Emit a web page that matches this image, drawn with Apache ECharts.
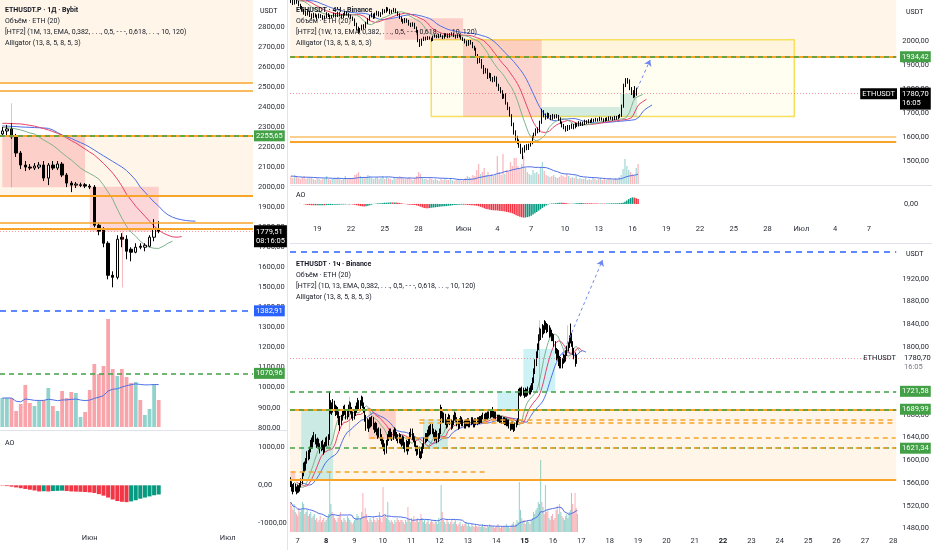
<!DOCTYPE html>
<html><head><meta charset="utf-8">
<script src="https://cdn.jsdelivr.net/npm/echarts@6/dist/echarts.min.js"></script>
<style>html,body{margin:0;padding:0;background:#fff}#c{width:932px;height:550px}</style>
</head><body><div id="c"></div><script>
// ================= DATA =================
// ---- Left panel: ETHUSDT.P · 1Д · Bybit ----
const dayStart = '2026-05-13T00:00';
const dayCount = 55;
const dayOpen  = [2265,2280,2290,2250,2170,2110,2100,2095,2100,2110,2045,2110,2095,2115,2060,2020,2010,2008,2012,2005,2000,1810,1790,1720,1560,1550,1750,1740,1690,1675,1705,1700,1705,1750,1790];
const dayClose = [2280,2290,2250,2170,2110,2100,2095,2105,2110,2045,2110,2095,2115,2060,2020,2010,2015,2012,2005,2000,1810,1780,1720,1560,1550,1740,1740,1680,1675,1700,1700,1710,1750,1790,1779.51];
const dayLow   = [2255,2260,2240,2150,2090,2080,2085,2085,2090,2030,2010,2085,2085,2050,2000,1975,1995,2000,1995,1990,1800,1760,1700,1540,1500,1540,1700,1640,1630,1670,1690,1680,1700,1730,1770];
const dayHigh  = [2300,2310,2320,2265,2180,2130,2115,2120,2125,2130,2120,2130,2130,2125,2070,2030,2025,2022,2020,2015,2010,1820,1800,1730,1580,1760,1770,1760,1700,1720,1720,1720,1760,1840,1830];
const dayVolume = [29,29,29,16,23,42,24,21,26,27,39,21,16,36,29,35,34,10,15,37,63,53,61,108,58,51,58,50,44,45,27,12,18,42,27];
const dayAO = [-10,-20,-35,-55,-75,-95,-115,-135,-160,-155,-160,-150,-145,-140,-150,-160,-165,-170,-175,-185,-200,-230,-270,-320,-370,-410,-430,-440,-420,-390,-350,-320,-290,-260,-240];
const dayJaw = [2305,2304,2303,2302,2300,2299,2298,2297,2296,2295,2293,2285,2272,2260,2251,2243,2232,2222,2212,2199,2185,2170,2156,2142,2128,2114,2100,2083,2060,2035,2000,1975,1950,1925,1905,1880,1862,1850,1842,1837,1833,1831,1830];
const dayTeeth = [2318,2318,2317,2316,2315,2312,2308,2304,2298,2292,2285,2277,2268,2258,2245,2232,2220,2205,2190,2175,2160,2140,2118,2095,2070,2040,2005,1965,1935,1905,1880,1855,1830,1805,1785,1770,1760,1752,1750,1753];
const dayLips = [2298,2296,2294,2290,2285,2278,2270,2265,2250,2235,2222,2208,2190,2170,2152,2135,2115,2095,2080,2068,2055,2040,2010,1975,1940,1890,1845,1805,1775,1755,1730,1712,1700,1695,1694,1705,1720,1730];
const dayPriceTicks = [800,900,1000,1100,1200,1300,1400,1500,1600,1700,1800,1900,2000,2100,2200,2300,2400,2500,2600,2700,2800];
const dayAOTicks = [-1000,0,1000];

// ---- Top right: ETHUSDT · 4Ч · Binance ----
const h4Start = '2026-05-16T16:00';
const h4Count = 324;
const h4FirstOpen = 2170;
const h4Close = [2165,2158,2170,2162,2150,2140,2130,2118,2112,2120,2108,2100,
2110,2105,2098,2108,2102,2095,2100,2112,2106,2098,2102,2110,
2104,2115,2108,2100,2110,2118,2112,2105,2098,2090,2070,2055,
2040,2048,2062,2058,2075,2090,2102,2110,2098,2112,2120,2108,
2115,2128,2122,2135,2130,2118,2125,2132,2120,2110,2098,2085,
2078,2090,2082,2070,2064,2072,2055,2040,2000,1985,2005,2012,
2008,2015,2010,2004,2018,2022,2016,2025,2020,2014,2028,2024,
2018,2026,2030,2022,2016,2024,2020,2012,2005,1995,1985,1998,
1990,1975,1968,1940,1915,1920,1895,1870,1880,1850,1862,1840,
1835,1848,1815,1800,1790,1765,1775,1740,1720,1690,1655,1620,
1595,1580,1565,1550,1540,1560,1552,1568,1575,1600,1612,1630,
1625,1660,1705,1690,1680,1695,1686,1678,1690,1682,1688,1676,
1660,1648,1640,1630,1645,1638,1650,1640,1655,1648,1660,1652,
1658,1665,1660,1668,1664,1672,1668,1675,1670,1678,1674,1670,
1676,1672,1680,1678,1675,1682,1678,1686,1690,1728,1815,1830,
1835,1800,1785,1770,1790,1780.7];
const h4High = [2180,2172,2178,2175,2168,2155,2146,2135,2125,2128,2126,2115,
2118,2115,2110,2115,2112,2108,2106,2120,2116,2110,2108,2118,
2116,2122,2120,2112,2116,2126,2124,2116,2110,2102,2094,2076,
2060,2054,2068,2070,2080,2095,2108,2118,2114,2118,2126,2124,
2120,2134,2132,2142,2140,2134,2130,2138,2136,2124,2115,2102,
2092,2096,2094,2088,2076,2078,2076,2060,2046,2008,2010,2018,
2018,2020,2019,2014,2022,2028,2026,2030,2029,2024,2032,2032,
2030,2032,2036,2034,2026,2028,2030,2024,2016,2010,2002,2004,
2004,1996,1980,1972,1946,1930,1925,1900,1888,1885,1868,1866,
1850,1855,1852,1822,1808,1795,1780,1782,1745,1726,1695,1660,
1628,1605,1590,1572,1556,1566,1570,1572,1582,1606,1618,1636,
1640,1668,1718,1712,1698,1702,1700,1692,1696,1694,1695,1692,
1682,1665,1654,1646,1650,1650,1656,1654,1660,1658,1666,1664,
1664,1672,1670,1674,1672,1678,1676,1680,1678,1684,1682,1678,
1680,1682,1686,1686,1684,1688,1688,1692,1696,1735,1822,1845,
1846,1840,1808,1795,1812,1805];
const h4Low = [2158,2150,2152,2155,2145,2132,2122,2110,2104,2106,2100,2092,
2095,2098,2090,2094,2096,2088,2090,2096,2100,2092,2094,2098,
2098,2100,2102,2094,2096,2106,2106,2098,2092,2084,2062,2046,
2030,2034,2044,2050,2052,2070,2085,2098,2092,2094,2106,2102,
2100,2110,2116,2118,2124,2112,2114,2120,2116,2104,2092,2080,
2072,2074,2076,2064,2058,2060,2050,2034,1995,1975,1980,2000,
2002,2004,2006,1998,2000,2014,2012,2012,2016,2008,2010,2018,
2012,2014,2022,2016,2010,2012,2015,2006,2000,1990,1978,1980,
1985,1970,1960,1935,1905,1908,1885,1862,1865,1842,1845,1832,
1828,1830,1810,1792,1782,1758,1760,1735,1712,1685,1645,1610,
1585,1570,1555,1530,1508,1535,1545,1546,1560,1570,1595,1605,
1615,1620,1655,1682,1672,1676,1680,1670,1672,1676,1678,1668,
1655,1640,1632,1622,1625,1630,1634,1632,1636,1642,1644,1646,
1646,1650,1654,1656,1658,1660,1662,1664,1664,1666,1668,1662,
1664,1666,1668,1672,1668,1670,1672,1674,1680,1684,1722,1808,
1822,1795,1775,1762,1765,1772];
const h4Volume = [8,6,9,7,6,5,7,8,5,6,7,6,
5,4,6,5,4,5,6,8,5,4,5,6,
5,7,6,4,5,8,6,5,5,6,9,10,
12,8,7,6,7,9,8,6,5,6,7,5,
6,8,5,7,6,5,4,6,5,6,8,7,
6,5,6,7,5,4,6,8,12,10,7,5,
5,4,6,5,4,5,4,3,5,4,6,4,
4,5,4,3,4,5,4,3,5,6,8,7,
6,9,8,14,20,10,12,16,9,12,8,10,
8,9,28,12,9,30,10,14,12,22,18,26,
26,18,15,20,28,16,12,10,9,14,11,12,
10,16,22,13,9,8,7,8,9,7,6,7,
9,8,7,10,8,6,7,6,8,5,6,5,
5,6,4,5,4,6,5,4,5,6,4,5,
4,5,6,4,5,6,5,7,9,15,25,18,
14,12,10,8,16,20];
const h4PriceTicks = [1500,1600,1700,1800,1900,2000];
const h4AOTicks = [0];

// ---- Bottom right: ETHUSDT · 1ч · Binance ----
const h1Start = '2026-06-06T18:00';
const h1Count = 513;
const h1FirstOpen = 1565;
const h1Close = [1560,1552,1548,1555,1550,1546,
1552,1548,1556,1562,
1575,1590,1585,1598,1610,1605,1618,1630,1625,1638,1642,
1632,1628,1635,1626,1620,1630,1624,1618,1628,1635,1630,1640,
1690,1695,1688,1700,1692,1685,1690,
1680,1672,1668,1675,1684,1690,1686,1678,1682,1692,1698,1688,1680,1676,1684,1690,1696,1702,1694,1700,1708,1698,
1690,1675,1662,1668,1660,1670,
1665,1672,1660,1655,1662,1650,1645,1652,1640,1635,1630,
1625,1618,1630,1640,1646,
1650,1644,1640,1648,1652,1645,1640,1636,1642,
1635,1630,1638,1628,1622,1630,1620,
1632,1645,1650,1642,1638,
1630,1622,1615,1620,1612,1608,1618,
1625,1635,1642,1638,1648,1655,1650,1658,1652,
1645,1640,1648,1636,1642,1650,
1688,
1680,1672,1678,1668,1662,1670,1676,1668,1660,1666,1674,1680,1672,1665,1660,1668,1672,1664,
1666,1660,1668,1664,1670,1662,1666,1672,1668,1662,1670,1666,1672,1668,1674,1670,1676,
1678,1674,1680,1676,1682,1678,1684,1680,1686,1678,1682,1676,
1672,1676,1670,1674,1668,1672,1666,1670,1664,1668,1662,1658,1664,1660,1656,1662,1666,1670,
1720,
1722,1718,1724,1720,1716,1722,1718,1724,1720,1726,1728,
1740,1756,1770,1784,1798,1815,
1826,1820,1832,1828,1840,1838,
1830,1835,1822,1828,1815,1818,1806,
1795,1784,1790,1772,1778,1766,
1774,1782,1778,1788,1796,1802,
1812,1818,1806,
1792,1784,1776,1780.7];
const h1High = [1570,1563,1558,1560,1559,1554,1557,1556,1560,1568,
1580,1596,1598,1604,1616,1618,1624,1636,1640,1644,
1650,1646,1638,1640,1638,1630,1634,1636,1628,1632,
1640,1642,1646,1721,1706,1702,1708,1705,1698,1696,
1694,1686,1678,1680,1690,1696,1698,1690,1688,1698,
1704,1702,1694,1686,1690,1696,1702,1710,1706,1706,
1714,1712,1702,1694,1680,1674,1672,1676,1676,1678,
1676,1666,1668,1666,1656,1658,1656,1646,1640,1636,
1630,1636,1646,1652,1656,1656,1650,1654,1658,1656,
1650,1646,1648,1646,1640,1644,1642,1632,1636,1634,
1638,1650,1656,1656,1648,1642,1634,1626,1626,1624,
1616,1624,1630,1640,1648,1648,1654,1660,1662,1664,
1664,1656,1650,1654,1652,1648,1656,1698,1694,1686,
1684,1682,1672,1676,1682,1680,1672,1670,1680,1686,
1684,1676,1670,1674,1678,1676,1672,1670,1672,1672,
1674,1674,1670,1676,1676,1672,1674,1674,1676,1676,
1678,1678,1680,1684,1682,1684,1684,1686,1686,1690,
1688,1694,1690,1686,1686,1680,1680,1680,1678,1678,
1676,1676,1674,1674,1672,1672,1666,1668,1668,1664,
1666,1670,1674,1726,1728,1728,1730,1728,1724,1728,
1726,1730,1728,1732,1736,1746,1762,1778,1792,1806,
1822,1834,1832,1840,1838,1847,1845,1842,1840,1838,
1834,1830,1824,1822,1810,1798,1796,1794,1784,1782,
1780,1788,1786,1794,1802,1808,1820,1841,1824,1810,
1798,1790,1786];
const h1Low = [1553,1545,1540,1544,1545,1540,1542,1543,1545,1552,
1558,1572,1580,1582,1594,1600,1602,1614,1620,1621,
1632,1628,1622,1624,1620,1612,1616,1618,1610,1614,
1624,1625,1626,1636,1682,1680,1684,1686,1678,1680,
1674,1662,1652,1662,1670,1678,1680,1672,1672,1676,
1686,1682,1674,1670,1672,1678,1684,1690,1688,1690,
1696,1692,1684,1668,1652,1656,1650,1656,1658,1660,
1654,1648,1650,1644,1638,1640,1634,1628,1622,1616,
1610,1612,1626,1634,1640,1638,1634,1636,1642,1638,
1634,1630,1630,1628,1624,1626,1620,1614,1616,1610,
1616,1628,1640,1636,1632,1624,1616,1608,1610,1604,
1602,1604,1612,1620,1630,1632,1634,1642,1644,1646,
1646,1640,1634,1636,1630,1632,1638,1646,1674,1666,
1666,1662,1656,1658,1664,1662,1654,1656,1662,1670,
1668,1660,1654,1656,1664,1660,1660,1656,1656,1660,
1660,1658,1658,1662,1664,1658,1658,1662,1662,1664,
1664,1666,1666,1672,1670,1670,1672,1672,1674,1674,
1676,1676,1674,1674,1672,1668,1668,1666,1666,1664,
1664,1662,1662,1660,1660,1656,1652,1654,1654,1650,
1652,1658,1662,1668,1714,1712,1714,1714,1710,1712,
1712,1714,1716,1716,1720,1724,1736,1752,1766,1780,
1794,1810,1812,1816,1822,1824,1830,1824,1826,1816,
1818,1810,1810,1800,1788,1776,1778,1766,1762,1762,
1762,1770,1772,1774,1784,1792,1798,1806,1800,1786,
1778,1765,1770];
const h1Volume = [30,26,22,28,20,18,16,24,20,22,
30,28,18,20,22,16,18,20,14,16,
18,12,14,10,12,16,10,12,14,10,
12,14,18,60,28,20,18,14,12,10,
14,16,20,12,10,14,12,10,16,14,
12,10,8,10,12,14,18,16,12,14,
20,39,16,24,18,12,10,14,12,10,
16,12,10,14,12,20,14,10,45,16,
18,14,30,12,10,12,10,8,12,10,
14,12,10,12,12,10,8,12,10,25,
12,10,14,12,16,10,12,14,10,12,
18,14,10,12,8,10,12,8,10,12,
10,8,12,10,8,14,10,47,20,12,
10,8,12,10,8,10,12,8,10,12,
8,6,8,10,6,8,6,8,10,6,
8,6,5,8,6,5,8,6,5,6,
5,6,8,5,6,4,6,5,8,6,
5,6,4,5,6,8,5,4,6,5,
6,5,8,6,5,4,6,8,10,6,
8,12,10,50,22,14,10,12,8,10,
12,10,8,12,14,20,18,22,24,30,
28,72,30,25,18,47,20,22,14,12,
16,18,12,14,22,26,18,28,20,16,
14,12,16,18,14,20,22,39,28,20,
39,24,18];
const h1PriceTicks = [1480,1520,1560,1600,1640,1680,1720,1800,1840,1880,1920];

// ---- Levels (prices) ----
const dayOrangeThin = [2522, 2482, 1821];
const dayOrangeThick = [2255.65, 1957, 1791];
const dayGreenDashed = [2255.65, 1070.96];
const dayBlueDashed = [1382.91];
const dayLast = 1779.51;
const h4OrangeThick = [1934.42, 1580];
const h4OrangeThin = [1601];
const h4GreenDashed = [1934.42];
const h4Last = 1780.70;
const h1GreenDashed = [1721.58, 1689.99, 1621.34];
const h1OrangeSolid = [1689.99, 1566.5];
const h1BlueDashed = [1968];
const h1Last = 1780.70;

// ================= HELPERS =================
const HOUR = 36e5, DAY = 864e5;
const FONT = 'Roboto, "Noto Sans", sans-serif';
const fmt = v => v.toFixed(2).replace('.', ',');
const utc = s => Date.parse(s + ':00Z');
function cats(start, step, n){ const s = utc(start), out = []; for (let i=0;i<n;i++) out.push(new Date(s+i*step).toISOString().slice(0,16).replace('T',' ')); return out; }
const di = iso => Math.round((utc(iso)-utc(dayStart))/DAY);
const fi = iso => Math.round((utc(iso)-utc(h4Start))/(4*HOUR));
const hi = iso => Math.round((utc(iso)-utc(h1Start))/HOUR);
const opensFrom = (first, close) => close.map((v,i)=> i===0 ? first : close[i-1]);
const candles = (o,c,l,h) => o.map((v,i)=>[v,c[i],l[i],h[i]]);
function smma(src,n){ const out=[]; let v=src[0]; src.forEach((x,i)=>{ v = i===0 ? x : (v*(n-1)+x)/n; out.push(+v.toFixed(2)); }); return out; }
function shifted(arr,s,total){ const out=new Array(total).fill(null); arr.forEach((v,i)=>{ if(i+s<total) out[i+s]=v; }); return out; }
function pad(arr,total){ const out=new Array(total).fill(null); arr.forEach((v,i)=>out[i]=v); return out; }
function sma(src,n){ return src.map((_,i)=>{ const a=src.slice(Math.max(0,i-n+1),i+1); return +(a.reduce((p,q)=>p+q,0)/a.length).toFixed(2); }); }
const UP = '#089981', DN = '#f23645';
function volItems(vol,o,c,up,dn){ return vol.map((v,i)=>({value:v,itemStyle:{color: c[i]>=o[i]?up:dn}})); }
function aoItems(ao){ return ao.map((v,i)=>({value:v,itemStyle:{color: (i>0 && v>=ao[i-1]) ? UP : DN}})); }
const MONTHS = {'05':'Май','06':'Июн','07':'Июл'};

// derived series
const dayCats = cats(dayStart, DAY, dayCount);
const h4Cats = cats(h4Start, 4*HOUR, h4Count);
const h1Cats = cats(h1Start, HOUR, h1Count);
const h4Open = opensFrom(h4FirstOpen, h4Close);
const h1Open = opensFrom(h1FirstOpen, h1Close);
const h4Med = h4High.map((v,i)=>(v+h4Low[i])/2);
const h1Med = h1High.map((v,i)=>(v+h1Low[i])/2);
const h4S5 = sma(h4Med,5), h4S34 = sma(h4Med,34);
const h4AO = h4S5.map((v,i)=>+(v-h4S34[i]).toFixed(2));

// ================= OPTION =================
const hiddenX = (grid, data) => ({type:'category', gridIndex:grid, data, boundaryGap:true, axisLine:{show:false}, axisTick:{show:false}, splitLine:{show:false}, axisLabel:{show:false}});
const labelStyle = {fontSize:7.5, color:'#2a2e39', fontFamily:FONT};
const priceY = (grid,min,max,ticks,margin) => ({type:'value', gridIndex:grid, position:'right', min, max, scale:true, axisLine:{show:false}, axisTick:{show:false}, splitLine:{show:false},
  axisLabel:Object.assign({customValues:ticks, formatter:v=>fmt(v), margin:margin||6}, labelStyle)});
const hiddenY = (grid,min,max) => ({type:'value', gridIndex:grid, min, max, show:false, splitLine:{show:false}});

const xAxes = [
  hiddenX(0, dayCats), hiddenX(1, dayCats),
  Object.assign(hiddenX(2, dayCats), {axisLabel:Object.assign({show:true, margin:5, interval:(i,v)=>v.slice(8,10)==='01', formatter:v=>MONTHS[v.slice(5,7)]}, labelStyle)}),
  hiddenX(3, h4Cats), hiddenX(4, h4Cats),
  Object.assign(hiddenX(5, h4Cats), {axisLabel:Object.assign({show:true, margin:7,
     interval:(i,v)=>{ const d=+v.slice(8,10); return v.slice(11,13)==='00' && (d-1)%3===0 && d<=28; },
     formatter:v=>{ const d=+v.slice(8,10); return d===1 ? MONTHS[v.slice(5,7)] : String(d); }}, labelStyle)}),
  Object.assign(hiddenX(6, h1Cats), {axisLabel:Object.assign({show:true, margin:2,
     interval:(i,v)=>v.slice(11,13)==='00',
     formatter:v=>{ const d=+v.slice(8,10); const wd=new Date(utc(v.replace(' ','T'))).getUTCDay(); return wd===1 ? '{b|'+d+'}' : String(d); },
     rich:{b:{fontWeight:'bold', fontSize:7.5, color:'#131722', fontFamily:FONT}}}, labelStyle)}),
  hiddenX(7, h1Cats)
];
const yAxes = [
  priceY(0, 788.5, 2933.2, dayPriceTicks, 5),
  hiddenY(1, 0, 127),
  priceY(2, -1141, 1418, dayAOTicks, 5),
  priceY(3, 1404.2, 2170.8, h4PriceTicks),
  hiddenY(4, 0, 44),
  priceY(5, -260, 330, h4AOTicks),
  priceY(6, 1468.4, 1975.9, h1PriceTicks),
  hiddenY(7, 0, 77)
];
const grids = [
  {left:0, top:0, width:253, height:430},
  {left:0, top:300, width:253, height:127},
  {left:0, top:431, width:253, height:98},
  {left:290, top:0, width:608, height:184},
  {left:290, top:140, width:608, height:44},
  {left:290, top:186, width:608, height:32},
  {left:290, top:247, width:608, height:288},
  {left:290, top:455, width:608, height:77}
];

const CREAM = 'rgba(255,183,77,0.12)', PINK = 'rgba(242,54,69,0.2)', TEAL4 = 'rgba(38,166,154,0.2)', TEAL1 = 'rgba(0,188,212,0.2)';
const ORANGE = '#f7a428', GREEN = '#43a047', BLUE = '#2962ff', WICK = 'rgba(242,54,69,0.35)';
const full = (y, color, width, type) => ({yAxis:y, lineStyle:{color, width, type}});
const seg = (x0, x1, y, color, width, type) => [{coord:[x0,y], lineStyle:{color, width, type}}, {coord:[x1,y]}];
const vseg = (x, y0, y1) => [{coord:[x,y0], lineStyle:{color:WICK, width:1, type:'solid'}}, {coord:[x,y1]}];
const box = (x0,y0,x1,y1,color,extra) => [Object.assign({coord:[x0,y0], itemStyle:Object.assign({color}, extra||{})}), {coord:[x1,y1]}];
const band = (y0,y1,color) => [{yAxis:y0, itemStyle:{color}}, {yAxis:y1}];
const arrow = (x0,y0,x1,y1) => [{coord:[x0,y0], symbol:'none', lineStyle:{color:'#6f86f2', width:1, type:[3,3]}}, {coord:[x1,y1], symbol:'arrow', symbolSize:6}];
const zoneSeries = (xi, areas) => ({type:'line', xAxisIndex:xi, yAxisIndex:xi, data:[], z:1, silent:true, markArea:{silent:true, data:areas}});
const levelSeries = (xi, lines) => ({type:'line', xAxisIndex:xi, yAxisIndex:xi, data:[], z:4, silent:true, markLine:{silent:true, animation:false, symbol:['none','none'], label:{show:false}, data:lines}});
const candleSeries = (xi, data, bw) => ({type:'candlestick', xAxisIndex:xi, yAxisIndex:xi, data, barWidth:bw, z:3, silent:true,
  itemStyle:{color:'#ffffff', color0:'#000000', borderColor:'#000000', borderColor0:'#000000', borderWidth:1}});
const lineSeries = (xi, data, color, z) => ({type:'line', xAxisIndex:xi, yAxisIndex:xi, data, symbol:'none', showSymbol:false, connectNulls:false, z:z||2, silent:true, lineStyle:{color, width:1}});
const JAW='#4f6fe8', TEETH='#e5436a', LIPS='#7fb38a';

const series = [
  // ----- left daily -----
  zoneSeries(0, [
    band(2522, 2933.2, CREAM), band(1957, 2255.65, CREAM),
    box(di('2026-05-13T00:00'), 2251, di('2026-05-31T00:00'), 1999, PINK),
    box(di('2026-06-01T00:00'), 2002, di('2026-06-16T00:00'), 1778, PINK)
  ]),
  levelSeries(0, [
    ...dayOrangeThin.map(v=>full(v, ORANGE, 1.5, 'solid')),
    ...dayOrangeThick.map(v=>full(v, ORANGE, 2, 'solid')),
    ...dayGreenDashed.map(v=>full(v, GREEN, 1.5, [5,4])),
    ...dayBlueDashed.map(v=>full(v, BLUE, 1.5, [6,5])),
    full(dayLast, 'rgba(242,54,69,0.5)', 1, [1,2]),
    vseg(di('2026-05-15T00:00'), 2418, 1999),
    vseg(di('2026-06-08T00:00'), 1778, 1500)
  ]),
  candleSeries(0, candles(dayOpen, dayClose, dayLow, dayHigh), 3),
  lineSeries(0, pad(dayJaw, dayCount), JAW),
  lineSeries(0, pad(dayTeeth, dayCount), TEETH),
  lineSeries(0, pad(dayLips, dayCount), LIPS),
  {type:'bar', xAxisIndex:1, yAxisIndex:1, data:volItems(dayVolume, dayOpen, dayClose, 'rgba(38,166,154,0.5)', 'rgba(242,54,69,0.45)'), barCategoryGap:'18%', z:1, silent:true},
  lineSeries(1, sma(dayVolume,20), '#4f6fe8', 2),
  {type:'bar', xAxisIndex:2, yAxisIndex:2, data:aoItems(dayAO), barCategoryGap:'12%', silent:true},

  // ----- 4H -----
  zoneSeries(3, [
    band(1934.42, 2170.8, CREAM),
    box(fi('2026-05-29T04:00'), 2005, fi('2026-06-30T12:00'), 1685, 'rgba(255,235,59,0.07)', {borderColor:'#f6e05e', borderWidth:1.5}),
    box(fi('2026-05-25T00:00'), 2095, fi('2026-06-01T00:00'), 2005, PINK),
    box(fi('2026-06-01T00:00'), 2005, fi('2026-06-08T00:00'), 1685, PINK),
    box(fi('2026-06-08T00:00'), 1685, fi('2026-06-15T00:00'), 1725, TEAL4),
    box(fi('2026-06-15T00:00'), 1685, fi('2026-06-16T12:00'), 1780, TEAL4)
  ]),
  levelSeries(3, [
    ...h4OrangeThick.map(v=>full(v, ORANGE, 2, 'solid')),
    ...h4OrangeThin.map(v=>full(v, 'rgba(247,164,40,0.7)', 1.5, 'solid')),
    ...h4GreenDashed.map(v=>full(v, GREEN, 1.5, [5,4])),
    full(h4Last, 'rgba(242,54,69,0.5)', 1, [1,2]),
    arrow(fi('2026-06-16T12:00'), 1800, fi('2026-06-17T16:00'), 1921)
  ]),
  candleSeries(3, candles(h4Open, h4Close, h4Low, h4High), 1.3),
  lineSeries(3, shifted(smma(h4Med,13), 8, h4Count), JAW),
  lineSeries(3, shifted(smma(h4Med,8), 5, h4Count), TEETH),
  lineSeries(3, shifted(smma(h4Med,5), 3, h4Count), LIPS),
  {type:'bar', xAxisIndex:4, yAxisIndex:4, data:volItems(h4Volume, h4Open, h4Close, 'rgba(38,166,154,0.4)', 'rgba(242,54,69,0.35)'), barCategoryGap:'30%', z:1, silent:true},
  lineSeries(4, sma(h4Volume,20), '#4f6fe8', 2),
  {type:'bar', xAxisIndex:5, yAxisIndex:5, data:aoItems(h4AO), barCategoryGap:'20%', silent:true},

  // ----- 1H -----
  zoneSeries(6, [
    band(1566.5, 1689.99, CREAM),
    box(hi('2026-06-06T18:00'), 1580, hi('2026-06-06T22:00'), 1567, PINK),
    box(hi('2026-06-07T03:00'), 1690, hi('2026-06-08T06:00'), 1567, TEAL1),
    box(hi('2026-06-09T12:00'), 1688, hi('2026-06-10T11:00'), 1637, PINK),
    box(hi('2026-06-11T10:00'), 1672, hi('2026-06-12T07:00'), 1620, TEAL1),
    box(hi('2026-06-14T01:00'), 1722, hi('2026-06-14T19:00'), 1690, TEAL1),
    box(hi('2026-06-14T23:00'), 1796, hi('2026-06-16T02:00'), 1721, TEAL1),
    box(hi('2026-06-16T09:00'), 1797, hi('2026-06-16T20:00'), 1780, 'rgba(242,54,69,0.12)')
  ]),
  levelSeries(6, [
    ...h1BlueDashed.map(v=>full(v, BLUE, 1.5, [6,5])),
    ...h1OrangeSolid.map(v=>full(v, ORANGE, 2, 'solid')),
    ...h1GreenDashed.map(v=>full(v, GREEN, 1.5, [5,4])),
    seg(hi('2026-06-11T07:00'), h1Count-1, 1672, ORANGE, 1.5, [5,4]),
    seg(hi('2026-06-11T07:00'), h1Count-1, 1666, ORANGE, 1.5, [5,4]),
    seg(hi('2026-06-09T13:00'), h1Count-1, 1640, ORANGE, 1.5, [5,4]),
    seg(hi('2026-06-09T13:00'), h1Count-1, 1621.34, ORANGE, 1.5, [5,4]),
    seg(0, hi('2026-06-13T17:00'), 1580, ORANGE, 1.5, [5,4]),
    full(h1Last, 'rgba(242,54,69,0.5)', 1, [1,2]),
    vseg(hi('2026-06-08T20:00'), 1712, 1642),
    vseg(hi('2026-06-15T12:00'), 1847, 1724),
    vseg(hi('2026-06-16T12:00'), 1838, 1791),
    arrow(hi('2026-06-16T08:00'), 1786, hi('2026-06-17T18:00'), 1953)
  ]),
  candleSeries(6, candles(h1Open, h1Close, h1Low, h1High), 1),
  lineSeries(6, shifted(smma(h1Med,13), 8, h1Count), JAW),
  lineSeries(6, shifted(smma(h1Med,8), 5, h1Count), TEETH),
  lineSeries(6, shifted(smma(h1Med,5), 3, h1Count), LIPS),
  {type:'bar', xAxisIndex:7, yAxisIndex:7, data:volItems(h1Volume, h1Open, h1Close, 'rgba(38,166,154,0.5)', 'rgba(242,54,69,0.4)'), barCategoryGap:'25%', z:1, silent:true},
  lineSeries(7, sma(h1Volume,20), '#4f6fe8', 2)
];

const chart = echarts.init(document.getElementById('c'));
chart.setOption({animation:false, backgroundColor:'#ffffff', textStyle:{fontFamily:FONT}, grid:grids, xAxis:xAxes, yAxis:yAxes, series});

// ================= TEXT / TAGS =================
const T = (text, x, y, opts) => Object.assign({type:'text', z:100, silent:true, style:Object.assign({text, x, y, fill:'#131722', font:'7px '+FONT, verticalAlign:'middle'}, opts||{})});
const L = (x1,y1,x2,y2) => ({type:'line', z:90, silent:true, shape:{x1,y1,x2,y2}, style:{stroke:'#e0e3eb', lineWidth:1}});
const py = (ai, v) => chart.convertToPixel({yAxisIndex:ai}, v);
const tag = (ai, v, x, text, bg, fg) => T(text, x, py(ai,v), {fill:fg||'#fff', backgroundColor:bg, padding:[2,2,1,2], font:'7.5px '+FONT});
const tag2 = (ai, v, x, t1, t2, bg, fg) => T(t1+'\n'+t2, x, py(ai,v)-6, {fill:fg, backgroundColor:bg, padding:[2,2,2,2], font:'7.5px '+FONT, verticalAlign:'top', lineHeight:9});

const hdr = (x, y0, title, htf) => [
  T(title, x, y0, {font:'bold 7px '+FONT}),
  T('Объём · ETH (20)', x, y0+11),
  T(htf, x, y0+22),
  T('Alligator (13, 8, 5, 8, 5, 3)', x, y0+33)
];
const graphics = [
  L(287.5,0,287.5,550), L(290,243.5,932,243.5), L(0,430.5,287,430.5), L(290,185.5,932,185.5),
  ...hdr(5, 10, 'ETHUSDT.P · 1Д · Bybit', '[HTF2] (1M, 13, EMA, 0,382, . . ., 0,5, - - -, 0,618, . . ., 10, 120)'),
  ...hdr(296, 10, 'ETHUSDT · 4Ч · Binance', '[HTF2] (1W, 13, EMA, 0,382, . . ., 0,5, - - -, 0,618, . . ., 10, 120)'),
  ...hdr(296, 264, 'ETHUSDT · 1ч · Binance', '[HTF2] (1D, 13, EMA, 0,382, . . ., 0,5, - - -, 0,618, . . ., 10, 120)'),
  T('AO', 5, 443), T('AO', 296, 195),
  T('USDT', 260, 11, {font:'7px '+FONT}), T('USDT', 906, 12, {font:'7px '+FONT}), T('USDT', 906, 254, {font:'7px '+FONT}),
  // left tags
  tag(0, 2255.65, 254, fmt(2255.65), '#43a047'),
  tag2(0, dayLast, 254, fmt(dayLast), '08:16:05', '#000', '#fff'),
  tag(0, 1382.91, 254, fmt(1382.91), '#2962ff'),
  tag(0, 1070.96, 254, fmt(1070.96), '#43a047'),
  // 4H tags
  tag(3, 1934.42, 900, fmt(1934.42), '#43a047'),
  tag2(3, h4Last, 900, fmt(h4Last), '16:05', '#000', '#fff'),
  T('ETHUSDT', 897, py(3,h4Last), {align:'right', fill:'#fff', backgroundColor:'#000', padding:[2,2,1,2], font:'7.5px '+FONT}),
  // 1H tags
  tag(6, 1721.58, 900, fmt(1721.58), '#43a047'),
  tag(6, 1689.99, 900, fmt(1689.99), '#43a047'),
  tag(6, 1621.34, 900, fmt(1621.34), '#43a047'),
  T(fmt(h1Last), 904, py(6,h1Last), {font:'7.5px '+FONT, fill:'#131722'}),
  T('16:05', 904, py(6,h1Last)+9, {font:'7.5px '+FONT, fill:'#787b86'}),
  T('ETHUSDT', 896, py(6,h1Last), {align:'right', font:'7.5px '+FONT})
];
chart.setOption({graphic: graphics});
</script></body></html>
